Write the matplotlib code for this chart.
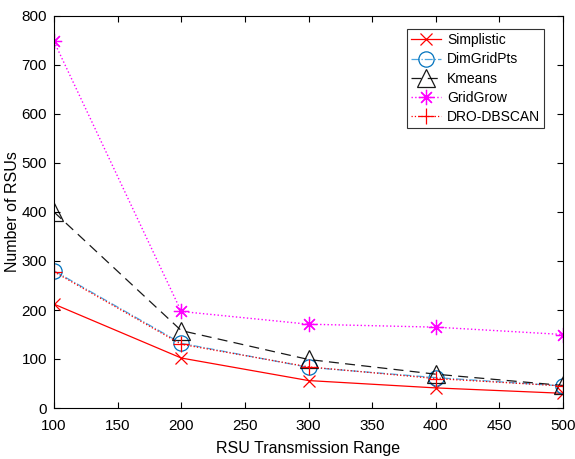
import matplotlib
matplotlib.use("Agg")
import matplotlib.pyplot as plt

plt.rcParams['font.family'] = ['Liberation Sans', 'DejaVu Sans']

ranges = [100, 200, 300, 400, 500]
simplistic = [212, 102, 56, 41, 30]
dimgridpts = [280, 132, 83, 62, 45]
kmeans = [400, 158, 99, 69, 46]
gridgrow = [748, 197, 171, 165, 150]
dro_dbscan = [278, 130, 84, 60, 45]

fig = plt.figure(figsize=(5.75, 4.59), dpi=100)
ax = fig.add_axes([54/575, 1 - 408/459, (563-54)/575, (408-16)/459])

# MATLAB-style '*' : 8 thin spokes
asterisk = (8, 2, 0)

ax.plot(ranges, simplistic, color='#ff0000', ls='-', lw=0.9, marker='x', ms=8.5, mew=0.9,
        label='Simplistic')
ax.plot(ranges, dimgridpts, color='#4da6e0', ls='-.', lw=0.9, marker='o', ms=11, mew=0.9,
        mfc='none', mec='#0072BD', label='DimGridPts')
ax.plot(ranges, kmeans, color='#000000', ls=(0, (8, 5)), lw=0.9, marker='^', ms=13, mew=0.9,
        mfc='none', alpha=0.9, label='Kmeans')
ax.plot(ranges, gridgrow, color='#ff00ff', ls=':', lw=1.0, marker=asterisk, ms=11, mew=0.9,
        label='GridGrow')
ax.plot(ranges, dro_dbscan, color='#ff0000', ls=':', lw=0.9, marker='+', ms=11, mew=0.9,
        label='DRO-DBSCAN')

ax.set_xlim(100, 500)
ax.set_ylim(0, 800)
ax.set_xticks(range(100, 501, 50))
ax.set_yticks(range(0, 801, 100))
ax.tick_params(direction='in', top=True, right=True, labelsize=11, length=4, width=0.8)
ax.tick_params(axis='x', pad=8)
ax.tick_params(axis='y', pad=5)
for s in ax.spines.values():
    s.set_linewidth(0.8)
ax.set_xlabel('RSU Transmission Range', fontsize=11.5, labelpad=6)
ax.set_ylabel('Number of RSUs', fontsize=11.5, labelpad=1)

leg = ax.legend(loc='upper right', bbox_to_anchor=(0.963, 0.967), fontsize=10, fancybox=False,
                edgecolor='#333333', framealpha=1, handlelength=2.2, borderpad=0.3,
                labelspacing=0.38, handletextpad=0.4, borderaxespad=0)
leg.get_frame().set_linewidth(0.8)

fig.savefig('out.png', dpi=100)
